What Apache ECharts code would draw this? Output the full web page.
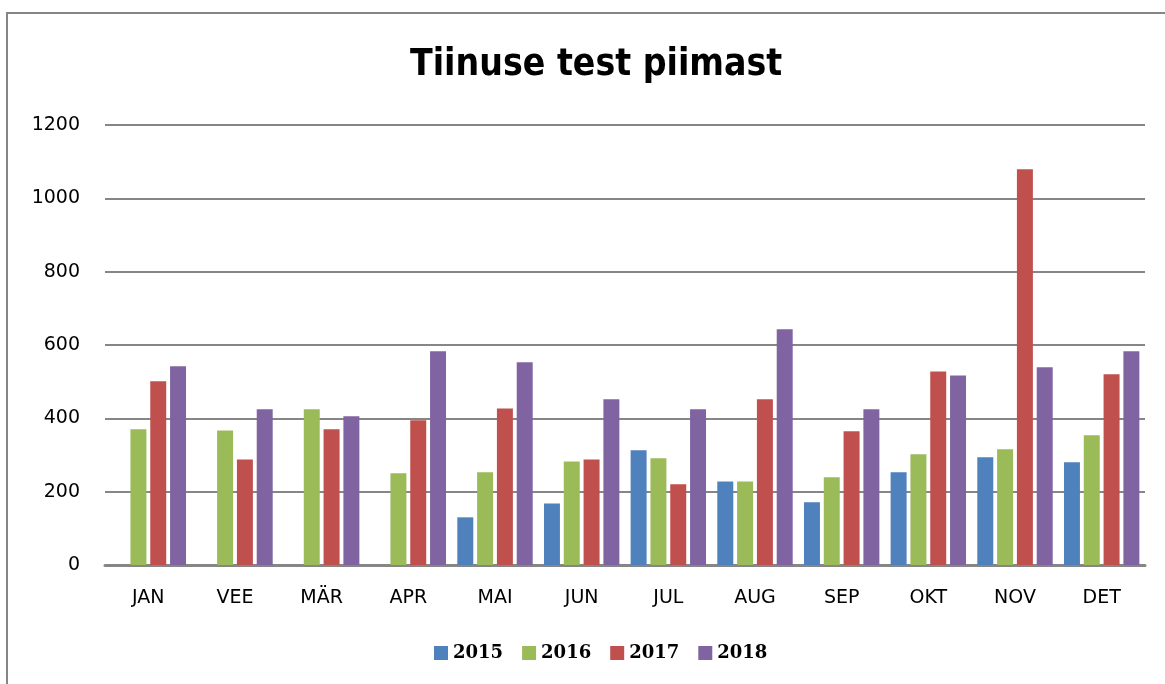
<!DOCTYPE html>
<html>
<head>
<meta charset="utf-8">
<script src="https://cdn.jsdelivr.net/npm/echarts@6/dist/echarts.min.js"></script>
<style>
  html, body { margin: 0; padding: 0; background: #fff; }
  #chart { width: 1165px; height: 684px; }
</style>
</head>
<body>
<div id="chart"></div>
<script>
// --- données ---
const months = ['JAN', 'VEE', 'MÄR', 'APR', 'MAI', 'JUN', 'JUL', 'AUG', 'SEP', 'OKT', 'NOV', 'DET'];
const years = ['2015', '2016', '2017', '2018'];
const v2015 = [null, null, null, null, 130, 168, 313, 228, 171, 253, 294, 280];
const v2016 = [370, 367, 425, 250, 253, 282, 291, 228, 239, 302, 316, 354];
const v2017 = [501, 288, 370, 395, 427, 288, 220, 452, 365, 528, 1079, 520];
const v2018 = [542, 425, 406, 583, 553, 452, 425, 643, 425, 517, 539, 583];
const yTicks = [0, 200, 400, 600, 800, 1000, 1200];

const colors = ['#4f81bd', '#9bbb59', '#c0504d', '#8064a2'];
const seriesValues = [v2015, v2016, v2017, v2018];

const chart = echarts.init(document.getElementById('chart'));

chart.setOption({
    animation: false,
    color: colors,
    title: {
        text: 'Tiinuse test piimast',
        left: 405,
        top: 42,
        textStyle: { fontFamily: '"DejaVu Sans Condensed", "Liberation Sans"', fontWeight: 'bold', fontSize: 37, color: '#000' }
    },
    graphic: [{
        type: 'rect',
        shape: { x: 7, y: 13, width: 1170, height: 700 },
        style: { fill: 'none', stroke: '#868686', lineWidth: 2 }
    }],
    legend: {
        data: years,
        bottom: 17,
        left: 429,
        itemWidth: 14,
        itemHeight: 14,
        itemGap: 19,
        icon: 'rect',
        textStyle: { fontFamily: 'DejaVu Serif', fontWeight: 'bold', fontSize: 18, color: '#000' }
    },
    grid: { left: 105, right: 20, top: 125, bottom: 119 },
    xAxis: {
        type: 'category',
        data: months,
        axisLine: { lineStyle: { color: '#868686', width: 3 } },
        axisTick: { show: false },
        axisLabel: { fontFamily: 'DejaVu Sans', fontSize: 19, color: '#000', margin: 24 }
    },
    yAxis: {
        type: 'value',
        min: yTicks[0],
        max: yTicks[yTicks.length - 1],
        interval: 200,
        axisLine: { show: false },
        axisTick: { show: false },
        axisLabel: { fontFamily: 'DejaVu Sans', fontSize: 19, color: '#000', margin: 25, formatter: v => String(v) },
        splitLine: { lineStyle: { color: '#868686', width: 2 } }
    },
    series: years.map((yr, i) => ({
        name: yr,
        type: 'bar',
        data: seriesValues[i],
        barGap: '24%',
        barCategoryGap: '13%'
    }))
});
</script>
</body>
</html>
